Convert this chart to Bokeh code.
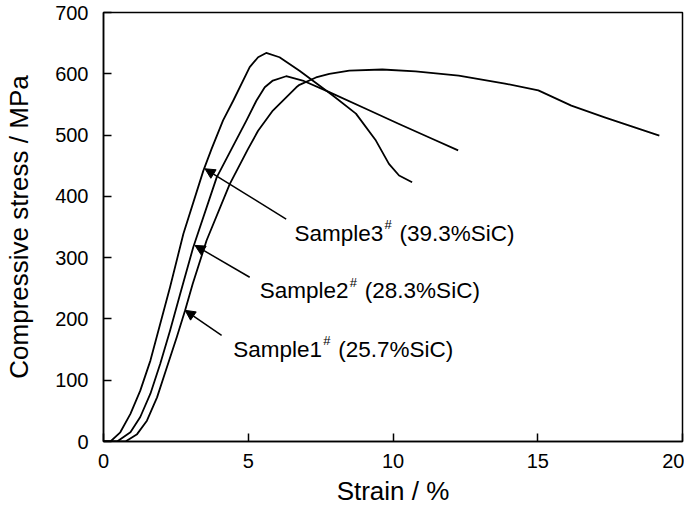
from bokeh.plotting import figure
from bokeh.models import Range1d, FixedTicker, Arrow, NormalHead
from bokeh.core.properties import value
from bokeh.embed import file_html
from bokeh.resources import INLINE

# ---- data ----
s1_strain = [0, 0.76, 1.16, 1.50, 1.85, 2.19, 2.53, 2.82, 3.08, 3.56, 4.36, 4.99, 5.34, 5.85,
             6.66, 6.77, 7.34, 7.80, 8.49, 9.63, 10.78, 12.27, 13.87, 15.02, 16.16, 17.31, 19.20]
s1_stress = [0, 0, 12, 34, 72, 121, 170, 214, 257, 328, 420, 477, 507, 540,
             578, 582, 594, 600, 605, 607, 604, 597, 584, 573, 548, 529, 499]

s2_strain = [0, 0.47, 0.93, 1.27, 1.62, 1.96, 2.30, 2.65, 3.10, 3.91, 4.42, 4.94, 5.28, 5.57,
             5.85, 6.31, 6.88, 7.80, 9.06, 10.21, 11.35, 12.25]
s2_stress = [0, 0, 15, 40, 78, 127, 181, 241, 317, 431, 477, 524, 556, 578,
             589, 596, 589, 570, 543, 518, 494, 475]

s3_strain = [0, 0.24, 0.58, 0.93, 1.27, 1.62, 1.96, 2.30, 2.76, 3.45, 3.73, 4.13, 4.48, 5.05,
             5.34, 5.62, 6.08, 6.77, 7.91, 8.72, 9.41, 9.86, 10.21, 10.66]
s3_stress = [0, 0, 15, 45, 83, 132, 192, 252, 339, 442, 477, 524, 556, 611,
             627, 634, 627, 605, 565, 535, 491, 453, 434, 423]

sample_names = ["Sample1", "Sample2", "Sample3"]
sample_sic = ["(25.7%SiC)", "(28.3%SiC)", "(39.3%SiC)"]

x_ticks = [0, 5, 10, 15, 20]
y_ticks = [0, 100, 200, 300, 400, 500, 600, 700]

FONT = "Liberation Sans"

p = figure(width=684, height=511, output_backend="svg", toolbar_location=None,
           x_range=Range1d(0, 20), y_range=Range1d(0, 700),
           min_border_left=103, min_border_right=2, min_border_top=12, min_border_bottom=70)
p.grid.visible = False
p.background_fill_color = "white"
p.border_fill_color = "white"
p.outline_line_color = "black"
p.outline_line_width = 1.5

for ax in (p.xaxis[0], p.yaxis[0]):
    ax.major_tick_in = 8
    ax.major_tick_out = 0
    ax.minor_tick_in = 0
    ax.minor_tick_out = 0
    ax.axis_line_color = "black"
    ax.axis_line_width = 1.5
    ax.major_tick_line_color = "black"
    ax.major_tick_line_width = 1.5
    ax.major_label_text_font = FONT
    ax.major_label_text_font_size = "20px"
    ax.major_label_text_color = "black"
    ax.axis_label_text_font = FONT
    ax.axis_label_text_font_style = "normal"
    ax.axis_label_text_color = "black"

p.xaxis[0].ticker = FixedTicker(ticks=x_ticks)
p.yaxis[0].ticker = FixedTicker(ticks=y_ticks)
p.xaxis[0].axis_label = "Strain / %"
p.yaxis[0].axis_label = "Compressive stress / MPa"
p.xaxis[0].axis_label_text_font_size = "26px"
p.yaxis[0].axis_label_text_font_size = "26px"
p.xaxis[0].major_label_standoff = 12
p.xaxis[0].axis_label_standoff = 5
p.yaxis[0].major_label_standoff = 15
p.yaxis[0].axis_label_standoff = 18

for xs, ys in ((s1_strain, s1_stress), (s2_strain, s2_stress), (s3_strain, s3_stress)):
    p.line(xs, ys, line_color="black", line_width=1.8, line_join="round")

# label anchors (data coords) and arrows
lab_x = [4.48, 5.40, 6.60]
lab_y = [150, 246, 340]
arrows = [((4.08, 173), (2.82, 214)),
          ((5.05, 268), (3.16, 320)),
          ((6.31, 363), (3.505, 445))]

for (xs0, ys0), (xe, ye) in arrows:
    p.add_layout(Arrow(end=NormalHead(size=10, fill_color="black", line_color="black", line_width=1),
                       x_start=xs0, y_start=ys0, x_end=xe, y_end=ye,
                       line_color="black", line_width=1.5))

p.text(x=lab_x, y=lab_y, text=sample_names, text_font=value(FONT), text_font_size="22.5px",
       text_align="left", text_baseline="alphabetic", text_color="black")
p.text(x=lab_x, y=[v + 14 for v in lab_y], text=["#", "#", "#"], text_font=value(FONT),
       text_font_size="13px", text_align="left", text_baseline="alphabetic",
       text_color="black", x_offset=90)
p.text(x=lab_x, y=lab_y, text=sample_sic, text_font=value(FONT), text_font_size="22.5px",
       text_align="left", text_baseline="alphabetic", text_color="black", x_offset=105)

open("out.html", "w").write(file_html(p, INLINE))
